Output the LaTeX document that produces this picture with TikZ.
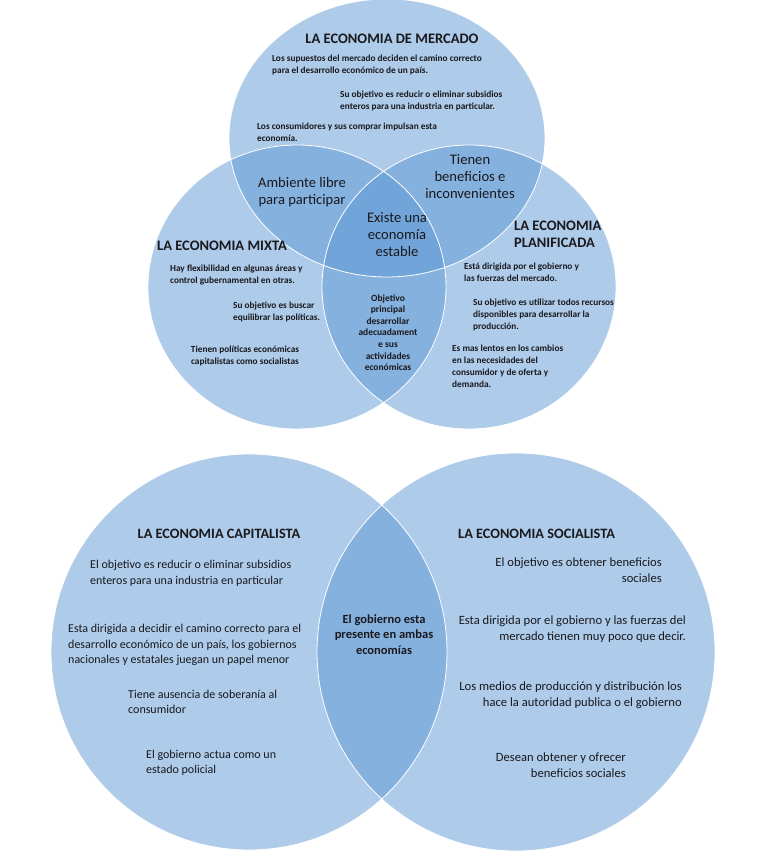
\documentclass[tikz,border=0pt]{standalone}
\usepackage{fontspec}
\setmainfont{Carlito}
\definecolor{vennblue}{RGB}{93,151,211}
\definecolor{inkgray}{RGB}{25,25,30}

\begin{document}
\begin{tikzpicture}[x=1pt, y=-1pt,
            every node/.style={inner sep=0pt, text=inkgray},
            venn/.style={fill=vennblue, fill opacity=0.5},
            rim/.style={draw=white, line width=0.8pt},
            head/.style={font=\fontsize{14.5}{17}\selectfont\bfseries, align=left},
            headb/.style={font=\fontsize{14.3}{17}\selectfont\bfseries},
            note/.style={font=\fontsize{9.3}{12}\selectfont\bfseries, align=left},
            mid/.style={font=\fontsize{14.6}{17}\selectfont, align=center},
            body/.style={font=\fontsize{12}{15.5}\selectfont, align=left},
            bodyr/.style={font=\fontsize{12.6}{15.8}\selectfont, align=right, anchor=east},
            ]
            \useasboundingbox (0,0) rectangle (768,866);

            % tres circulos de arriba
            \fill[venn] (387,138) ellipse [x radius=158pt, y radius=139pt];
            \fill[venn] (297,287) ellipse [x radius=149pt, y radius=142pt];
            \fill[venn] (469,287) ellipse [x radius=147pt, y radius=142pt];
            % dos circulos de abajo
            \fill[venn] (249,652) circle [radius=198pt];
            \fill[venn] (516,652) circle [radius=199pt];

            \draw[rim] (387,138) ellipse [x radius=158pt, y radius=139pt];
            \draw[rim] (297,287) ellipse [x radius=149pt, y radius=142pt];
            \draw[rim] (469,287) ellipse [x radius=147pt, y radius=142pt];
            \draw[rim] (249,652) circle [radius=198pt];
            \draw[rim] (516,652) circle [radius=199pt];

            % mercado
            \node[head] (merc) at (392,39) {LA ECONOMIA DE MERCADO};
            \node[note, anchor=west] (merc1) at (272,64.5) {Los supuestos del mercado deciden el camino correcto\\para el desarrollo económico de un país.};
            \node[note, anchor=west] (merc2) at (340,101) {Su objetivo es reducir o eliminar subsidios\\enteros para una industria en particular.};
            \node[note, anchor=west] (merc3) at (257,132.5) {Los consumidores y sus comprar impulsan esta\\economía.};

            % intersecciones
            \node[mid] (libre) at (302,192.5) {Ambiente libre\\para participar};
            \node[mid] (benef) at (470,177) {Tienen\\beneficios e\\inconvenientes};
            \node[mid] (estable) at (397,235) {Existe una\\economía\\estable};
            \node[note, align=center, font=\fontsize{9.5}{11.6}\selectfont\bfseries] (objet) at (388,332.5) {Objetivo\\principal\\desarrollar\\adecuadament\\e sus\\actividades\\económicas};

            % mixta
            \node[head] (mixta) at (222,246) {LA ECONOMIA MIXTA};
            \node[note, anchor=west] (mix1) at (170,275.5) {Hay flexibilidad en algunas áreas y\\control gubernamental en otras.};
            \node[note, anchor=west] (mix2) at (233,312) {Su objetivo es buscar\\equilibrar las políticas.};
            \node[note, align=center] (mix3) at (245,356) {Tienen políticas económicas\\capitalistas como socialistas};

            % planificada
            \node[head, anchor=west] (plan) at (514,234.5) {LA ECONOMIA\\PLANIFICADA};
            \node[note, anchor=west] (plan1) at (464,272) {Está dirigida por el gobierno y\\las fuerzas del mercado.};
            \node[note, anchor=west] (plan2) at (473,314.5) {Su objetivo es utilizar todos recursos\\disponibles para desarrollar la\\producción.};
            \node[note, anchor=west] (plan3) at (452,366.5) {Es mas lentos en los cambios\\en las necesidades del\\consumidor y de oferta y\\demanda.};

            % capitalista
            \node[headb] (capit) at (219,534) {LA ECONOMIA CAPITALISTA};
            \node[body, anchor=west] (cap1) at (90,573.5) {El objetivo es reducir o eliminar subsidios\\enteros para una industria en particular};
            \node[body, anchor=west] (cap2) at (68,645) {Esta dirigida a decidir el camino correcto para el\\desarrollo económico de un país, los gobiernos\\nacionales y estatales juegan un papel menor};
            \node[body, anchor=west] (cap3) at (128,702) {Tiene ausencia de soberanía al\\consumidor};
            \node[body, anchor=west] (cap4) at (146,763) {El gobierno actua como un\\estado policial};

            % ambas
            \node[body, align=center, font=\fontsize{12.5}{15.5}\selectfont\bfseries] (ambas) at (384,634.5) {El gobierno esta\\presente en ambas\\economías};

            % socialista
            \node[headb, anchor=west] (social) at (458,534) {LA ECONOMIA SOCIALISTA};
            \node[bodyr] (soc1) at (662,570.5) {El objetivo es obtener beneficios\\sociales};
            \node[bodyr] (soc2) at (686,629) {Esta dirigida por el gobierno y las fuerzas del\\mercado tienen muy poco que decir.};
            \node[bodyr] (soc3) at (682,695) {Los medios de producción y distribución los\\hace la autoridad publica o el gobierno};
            \node[bodyr] (soc4) at (626,765) {Desean obtener y ofrecer\\beneficios sociales};
\end{tikzpicture}
\end{document}
